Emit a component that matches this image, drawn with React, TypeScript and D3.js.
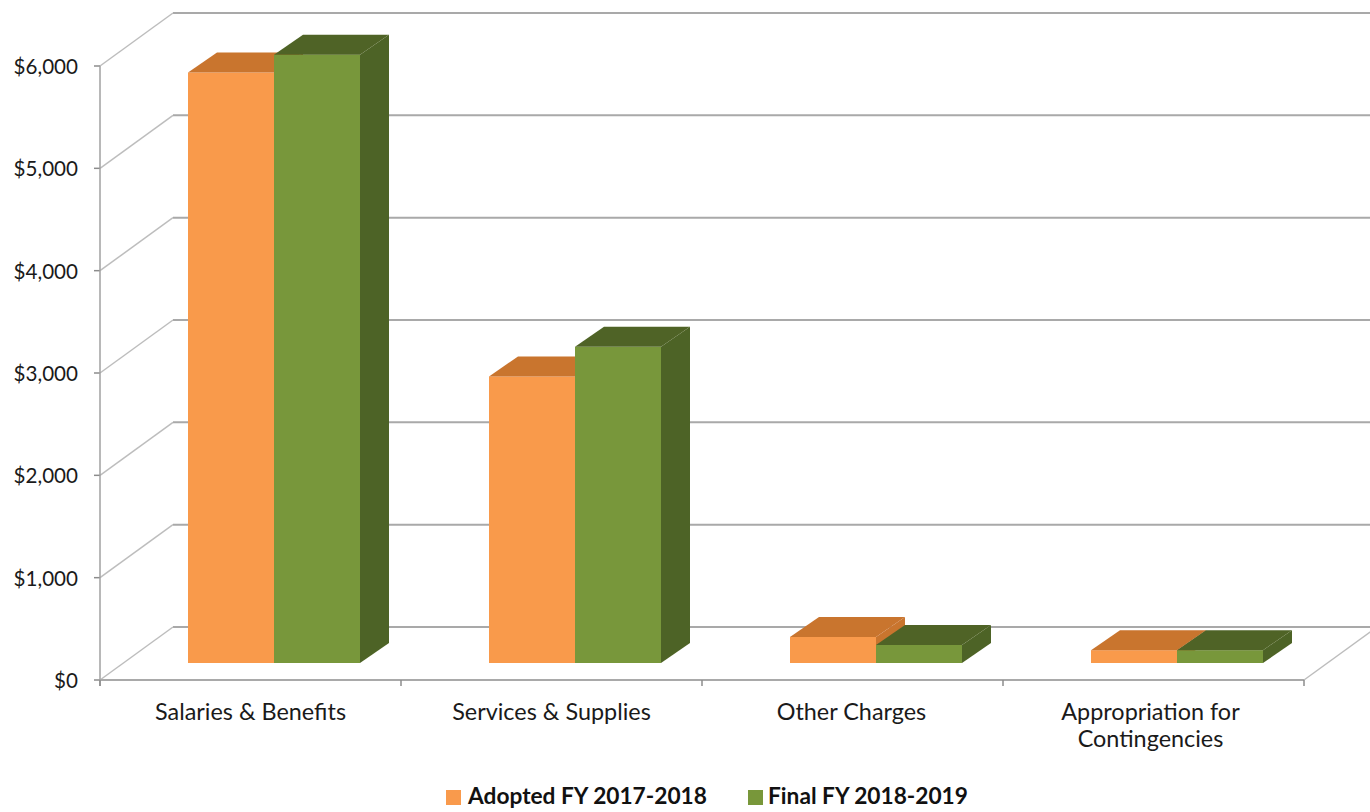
import React from "react";
import * as d3 from "d3";

const categories = ["Salaries & Benefits", "Services & Supplies", "Other Charges", "Appropriation for|Contingencies"];
const adopted = [5770, 2800, 255, 125];
const finalBudget = [5945, 3090, 176, 125];
const ticks = [0, 1000, 2000, 3000, 4000, 5000, 6000];
const seriesNames = ["Adopted FY 2017-2018", "Final FY 2018-2019"];

const FONT = "Lato, 'Open Sans', sans-serif";
const GRID = "#a9a9a9";
const palette = [
  { front: "#f99a4c", top: "#c9742f", side: "#c9742f" },
  { front: "#78973a", top: "#4f6426", side: "#4e6325" },
];

export default function App() {
  const x = d3.scaleBand<number>().domain(d3.range(categories.length)).range([100, 1304]);
  const y = d3.scaleLinear().domain([0, 6000]).range([680, 66]);
  const wall = { dx: 73, dy: -53 };
  const barBaseLift = 17;
  const depth = { dx: 29, dy: -20 };
  const barOffset = 88;
  const barW = 86;
  const series = [adopted, finalBudget];
  const baseY = y(0) - barBaseLift;
  const h = (v: number) => y(0) - y(v);

  return (
    <svg width={1370} height={812} style={{ position: "absolute", left: 0, top: 0, background: "#fff" }} fontFamily={FONT}>
      <defs>
        <filter id="soft" x="-5%" y="-5%" width="110%" height="110%">
          <feGaussianBlur stdDeviation="0.6" />
        </filter>
      </defs>
      {ticks.map((t) => (
        <g key={t}>
          <line x1={100 + wall.dx} x2={1370} y1={y(t) + wall.dy} y2={y(t) + wall.dy} stroke={GRID} strokeWidth={2} />
          <line x1={100} x2={100 + wall.dx} y1={y(t)} y2={y(t) + wall.dy} stroke="#bdbdbd" strokeWidth={1.5} />
          <line x1={94} x2={100} y1={y(t)} y2={y(t)} stroke="#8c8c8c" strokeWidth={1.5} />
          <text x={78} y={y(t) + 8} textAnchor="end" fontSize={20.6} fill="#1a1a1a">
            {d3.format("$,")(t)}
          </text>
        </g>
      ))}
      <line x1={100} x2={100} y1={y(6000)} y2={y(0) + 6} stroke="#a0a0a0" strokeWidth={1.5} />
      <line x1={100} x2={1304} y1={y(0)} y2={y(0)} stroke={GRID} strokeWidth={2} />
      <line x1={1304} x2={1304 + wall.dx} y1={y(0)} y2={y(0) + wall.dy} stroke="#bdbdbd" strokeWidth={1.5} />
      {d3.range(categories.length + 1).map((i) => {
        const tx = 100 + i * x.bandwidth();
        return <line key={i} x1={tx} x2={tx} y1={y(0)} y2={y(0) + 6} stroke="#8c8c8c" strokeWidth={1.5} />;
      })}
      <g filter="url(#soft)">
        {categories.map((_, c) =>
          series.map((vals, s) => {
            const x0 = (x(c) as number) + barOffset + s * barW;
            const x1 = x0 + barW;
            const yt = baseY - h(vals[c]);
            const p = palette[s];
            const poly = (pts: number[][]) => pts.map((q) => q.join(",")).join(" ");
            return (
              <g key={`${c}-${s}`}>
                <rect x={x0} y={yt} width={barW} height={baseY - yt} fill={p.front} />
                <polygon
                  points={poly([[x0, yt], [x1, yt], [x1 + depth.dx, yt + depth.dy], [x0 + depth.dx, yt + depth.dy]])}
                  fill={p.top}
                />
                <polygon
                  points={poly([[x1, yt], [x1 + depth.dx, yt + depth.dy], [x1 + depth.dx, baseY + depth.dy], [x1, baseY]])}
                  fill={p.side}
                />
              </g>
            );
          })
        )}
      </g>
      {categories.map((c, i) => {
        const cx = (x(i) as number) + x.bandwidth() / 2 - (i === 3 ? 3 : i === 2 ? 1 : 0);
        return (
          <text key={c} textAnchor="middle" fontSize={23.4} fill="#1a1a1a">
            {c.split("|").map((l, j) => (
              <tspan key={j} x={cx} y={720 + j * 27}>
                {l}
              </tspan>
            ))}
          </text>
        );
      })}
      {seriesNames.map((n, i) => {
        const lx = [446, 748][i];
        return (
          <g key={n}>
            <rect x={lx} y={790} width={15} height={15} fill={palette[i].front} />
            <text x={i === 0 ? 468 : 768} y={804} fontSize={22.7} fontWeight={700} fill="#111">
              {n}
            </text>
          </g>
        );
      })}
    </svg>
  );
}
